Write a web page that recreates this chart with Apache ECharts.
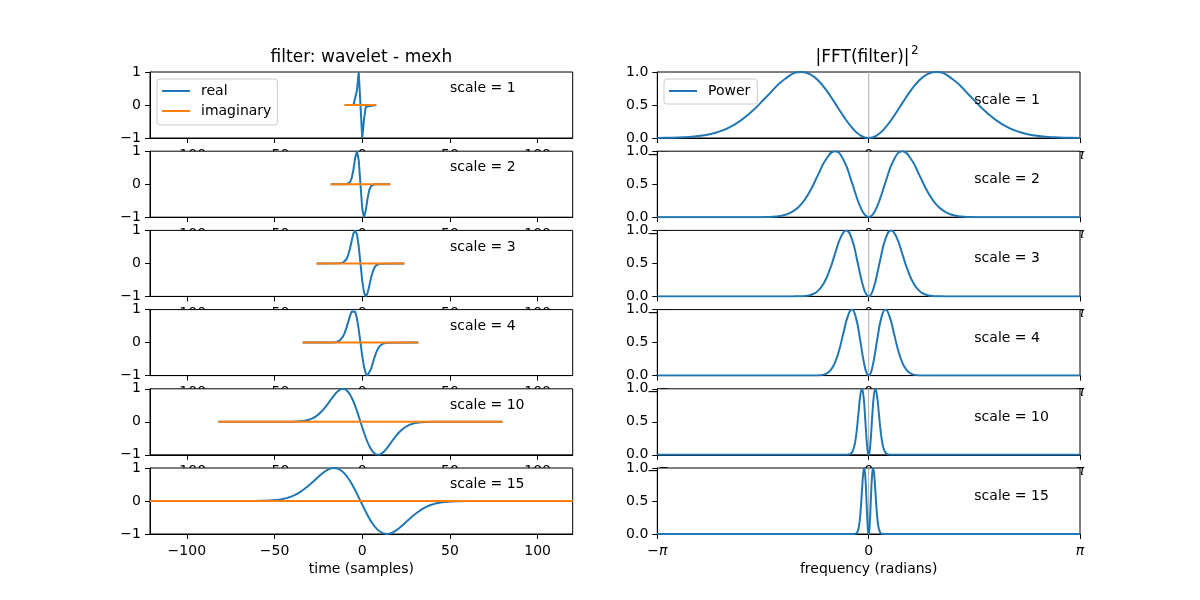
<!DOCTYPE html>
<html><head><meta charset="utf-8">
<script src="https://cdn.jsdelivr.net/npm/echarts@6/dist/echarts.min.js"></script>
<style>html,body{margin:0;padding:0;background:#fff}#c{width:1200px;height:600px}</style>
</head><body><div id="c"></div>
<script>
const scales = [1, 2, 3, 4, 10, 15];
const timeTicks = [-100, -50, 0, 50, 100];
const freqTicks = [-Math.PI, 0, Math.PI];

const realS1 = [[-10,0],[-5,0.002],[-4,0.055],[-3,0.446],[-2,1],[-1,0],[0,-1],[1,-0.446],[2,-0.055],[3,-0.002],[8,0]];
const imagS1 = [[-10,0],[8,0]];
const realS2 = [[-18,0],[-9,0.002],[-8,0.013],[-7,0.055],[-6,0.181],[-5,0.446],[-4,0.803],[-3,1],[-2,0.728],[-1,0],[0,-0.728],[1,-1],[2,-0.803],[3,-0.446],[4,-0.181],[5,-0.055],[6,-0.013],[7,-0.002],[16,0]];
const imagS2 = [[-18,0],[16,0]];
const realS3 = [[-26,0],[-13,0.002],[-12,0.007],[-11,0.021],[-10,0.055],[-9,0.126],[-8,0.253],[-7,0.446],[-6,0.685],[-5,0.904],[-4,1],[-3,0.880],[-2,0.520],[-1,0],[0,-0.520],[1,-0.880],[2,-1],[3,-0.904],[4,-0.685],[5,-0.446],[6,-0.253],[7,-0.126],[8,-0.055],[9,-0.021],[10,-0.007],[11,-0.002],[24,0]];
const imagS3 = [[-26,0],[24,0]];
const realS4 = [[-34,0],[-17,0.002],[-16,0.006],[-15,0.013],[-14,0.027],[-13,0.055],[-12,0.103],[-11,0.181],[-10,0.295],[-9,0.446],[-8,0.624],[-7,0.803],[-6,0.943],[-5,1],[-4,0.933],[-3,0.728],[-2,0.400],[-1,0],[0,-0.400],[1,-0.728],[2,-0.933],[3,-1],[4,-0.943],[5,-0.803],[6,-0.624],[7,-0.446],[8,-0.295],[9,-0.181],[10,-0.103],[11,-0.055],[12,-0.027],[13,-0.013],[14,-0.006],[15,-0.002],[32,0]];
const imagS4 = [[-34,0],[32,0]];
const realS10 = [[-82,0],[-46,0],[-41,0.002],[-38.5,0.006],[-36,0.013],[-33.5,0.027],[-31,0.055],[-28.5,0.103],[-26,0.181],[-23.5,0.295],[-21,0.446],[-18.5,0.624],[-16,0.803],[-13.5,0.943],[-11,1],[-8.5,0.933],[-6,0.728],[-3.5,0.400],[-1,0],[1.5,-0.400],[4,-0.728],[6.5,-0.933],[9,-1],[11.5,-0.943],[14,-0.803],[16.5,-0.624],[19,-0.446],[21.5,-0.295],[24,-0.181],[26.5,-0.103],[29,-0.055],[31.5,-0.027],[34,-0.013],[36.5,-0.006],[39,-0.002],[44,0],[80,0]];
const imagS10 = [[-82,0],[80,0]];
const realS15 = [[-121,0],[-68.5,0],[-61,0.002],[-57.25,0.006],[-53.5,0.013],[-49.75,0.027],[-46,0.055],[-42.25,0.103],[-38.5,0.181],[-34.75,0.295],[-31,0.446],[-27.25,0.624],[-23.5,0.803],[-19.75,0.943],[-16,1],[-12.25,0.933],[-8.5,0.728],[-4.75,0.400],[-1,0],[2.75,-0.400],[6.5,-0.728],[10.25,-0.933],[14,-1],[17.75,-0.943],[21.5,-0.803],[25.25,-0.624],[29,-0.446],[32.75,-0.295],[36.5,-0.181],[40.25,-0.103],[44,-0.055],[47.75,-0.027],[51.5,-0.013],[55.25,-0.006],[59,-0.002],[66.5,0],[120,0]];
const imagS15 = [[-121,0],[120,0]];

const powerS1 = [[-3.1416,0.001],[-3,0.003],[-2.75,0.011],[-2.5,0.033],[-2.25,0.087],[-2,0.199],[-1.75,0.389],[-1.5,0.645],[-1.25,0.890],[-1,1],[-0.875,0.968],[-0.75,0.871],[-0.625,0.718],[-0.5,0.529],[-0.375,0.332],[-0.25,0.160],[-0.125,0.042],[0,0],[0.125,0.042],[0.25,0.160],[0.375,0.332],[0.5,0.529],[0.625,0.718],[0.75,0.871],[0.875,0.968],[1,1],[1.25,0.890],[1.5,0.645],[1.75,0.389],[2,0.199],[2.25,0.087],[2.5,0.033],[2.75,0.011],[3,0.003],[3.1416,0.001]];
const powerS2 = [[-3.1416,0],[-1.75,0.0002],[-1.625,0.0007],[-1.5,0.003],[-1.375,0.011],[-1.25,0.033],[-1.125,0.087],[-1,0.199],[-0.875,0.389],[-0.75,0.645],[-0.625,0.890],[-0.5,1],[-0.375,0.871],[-0.25,0.529],[-0.1875,0.332],[-0.125,0.160],[-0.0625,0.042],[0,0],[0.0625,0.042],[0.125,0.160],[0.1875,0.332],[0.25,0.529],[0.375,0.871],[0.5,1],[0.625,0.890],[0.75,0.645],[0.875,0.389],[1,0.199],[1.125,0.087],[1.25,0.033],[1.375,0.011],[1.5,0.003],[1.625,0.0007],[1.75,0.0002],[3.1416,0]];
const powerS3 = [[-3.1416,0],[-1.1667,0.0002],[-1.0833,0.0007],[-1,0.003],[-0.9167,0.011],[-0.8333,0.033],[-0.75,0.087],[-0.6667,0.199],[-0.5833,0.389],[-0.5,0.645],[-0.4167,0.890],[-0.3333,1],[-0.25,0.871],[-0.1667,0.529],[-0.125,0.332],[-0.0833,0.160],[-0.0417,0.042],[0,0],[0.0417,0.042],[0.0833,0.160],[0.125,0.332],[0.1667,0.529],[0.25,0.871],[0.3333,1],[0.4167,0.890],[0.5,0.645],[0.5833,0.389],[0.6667,0.199],[0.75,0.087],[0.8333,0.033],[0.9167,0.011],[1,0.003],[1.0833,0.0007],[1.1667,0.0002],[3.1416,0]];
const powerS4 = [[-3.1416,0],[-0.875,0.0002],[-0.8125,0.0007],[-0.75,0.003],[-0.6875,0.011],[-0.625,0.033],[-0.5625,0.087],[-0.5,0.199],[-0.4375,0.389],[-0.375,0.645],[-0.3125,0.890],[-0.25,1],[-0.1875,0.871],[-0.125,0.529],[-0.0938,0.332],[-0.0625,0.160],[-0.0313,0.042],[0,0],[0.0313,0.042],[0.0625,0.160],[0.0938,0.332],[0.125,0.529],[0.1875,0.871],[0.25,1],[0.3125,0.890],[0.375,0.645],[0.4375,0.389],[0.5,0.199],[0.5625,0.087],[0.625,0.033],[0.6875,0.011],[0.75,0.003],[0.8125,0.0007],[0.875,0.0002],[3.1416,0]];
const powerS10 = [[-3.1416,0],[-0.35,0.0002],[-0.325,0.0007],[-0.3,0.003],[-0.275,0.011],[-0.25,0.033],[-0.225,0.087],[-0.2,0.199],[-0.175,0.389],[-0.15,0.645],[-0.125,0.890],[-0.1,1],[-0.075,0.871],[-0.05,0.529],[-0.0375,0.332],[-0.025,0.160],[-0.0125,0.042],[0,0],[0.0125,0.042],[0.025,0.160],[0.0375,0.332],[0.05,0.529],[0.075,0.871],[0.1,1],[0.125,0.890],[0.15,0.645],[0.175,0.389],[0.2,0.199],[0.225,0.087],[0.25,0.033],[0.275,0.011],[0.3,0.003],[0.325,0.0007],[0.35,0.0002],[3.1416,0]];
const powerS15 = [[-3.1416,0],[-0.2333,0.0002],[-0.2167,0.0007],[-0.2,0.003],[-0.1833,0.011],[-0.1667,0.033],[-0.15,0.087],[-0.1333,0.199],[-0.1167,0.389],[-0.1,0.645],[-0.0833,0.890],[-0.0667,1],[-0.05,0.871],[-0.0333,0.529],[-0.025,0.332],[-0.0167,0.160],[-0.0083,0.042],[0,0],[0.0083,0.042],[0.0167,0.160],[0.025,0.332],[0.0333,0.529],[0.05,0.871],[0.0667,1],[0.0833,0.890],[0.1,0.645],[0.1167,0.389],[0.1333,0.199],[0.15,0.087],[0.1667,0.033],[0.1833,0.011],[0.2,0.003],[0.2167,0.0007],[0.2333,0.0002],[3.1416,0]];
const zeroLine = [[0,0],[0,1]];

const realList = [realS1, realS2, realS3, realS4, realS10, realS15];
const imagList = [imagS1, imagS2, imagS3, imagS4, imagS10, imagS15];
const powerList = [powerS1, powerS2, powerS3, powerS4, powerS10, powerS15];

const FONT = 'DejaVu Sans';
const BLUE = '#1f77b4', ORANGE = '#ff7f0e';
const rowTop = [72, 151.2, 230.4, 309.6, 388.8, 468];
const rowH = 66;
const minus = s => String(s).replace('-', '\u2212');

const grids = [], xAxes = [], yAxes = [], series = [];
for (let r = 0; r < 6; r++) {
  const zG = 10 * r + 1, zA = 10 * r + 2, zS = 10 * r + 3;
  const last = r === 5;
  const gridBase = { top: rowTop[r], height: rowH, show: true, backgroundColor: '#fff', borderColor: '#000', borderWidth: 1, z: zG };
  grids.push(Object.assign({ left: 150, width: 422.7 }, gridBase));
  grids.push(Object.assign({ left: 657.3, width: 422.7 }, gridBase));
  const axisCommon = {
    z: zA,
    axisLine: { show: true, onZero: false, lineStyle: { color: '#000', width: 1 } },
    splitLine: { show: false },
  };
  xAxes.push(Object.assign({}, axisCommon, {
    type: 'value', gridIndex: 2 * r, min: -121, max: 120,
    axisTick: { show: true, length: 5, customValues: timeTicks, lineStyle: { color: '#000' } },
    axisLabel: { customValues: timeTicks, margin: 10, fontSize: 14, color: '#000', fontFamily: FONT, formatter: v => minus(v) },
    name: last ? 'time (samples)' : '', nameLocation: 'middle', nameGap: 28,
    nameTextStyle: { fontSize: 14, color: '#000', fontFamily: FONT }
  }));
  xAxes.push(Object.assign({}, axisCommon, {
    type: 'value', gridIndex: 2 * r + 1, min: -Math.PI, max: Math.PI,
    axisTick: { show: true, length: 5, customValues: freqTicks, lineStyle: { color: '#000' } },
    axisLabel: { customValues: freqTicks, margin: 10, fontSize: 14, color: '#000', fontFamily: FONT,
      formatter: v => v < -1 ? '\u2212{i|π}' : (v > 1 ? '{i|π}' : '0'),
      rich: { i: { fontStyle: 'italic', fontSize: 14, fontFamily: FONT, color: '#000' } } },
    name: last ? 'frequency (radians)' : '', nameLocation: 'middle', nameGap: 28,
    nameTextStyle: { fontSize: 14, color: '#000', fontFamily: FONT }
  }));
  yAxes.push(Object.assign({}, axisCommon, {
    type: 'value', gridIndex: 2 * r, min: -1, max: 1, interval: 1,
    axisTick: { show: true, length: 5, lineStyle: { color: '#000' } },
    axisLabel: { margin: 9, fontSize: 14, color: '#000', fontFamily: FONT, formatter: v => minus(v) }
  }));
  yAxes.push(Object.assign({}, axisCommon, {
    type: 'value', gridIndex: 2 * r + 1, min: 0, max: 1, interval: 0.5,
    axisTick: { show: true, length: 5, lineStyle: { color: '#000' } },
    axisLabel: { margin: 9, fontSize: 14, color: '#000', fontFamily: FONT, formatter: v => v.toFixed(1) }
  }));

  const smoothLeft = scales[r] >= 10;
  series.push({
    name: 'real', type: 'line', xAxisIndex: 2 * r, yAxisIndex: 2 * r, data: realList[r],
    symbol: 'none', showSymbol: false, smooth: smoothLeft, z: zS,
    lineStyle: { color: BLUE, width: 2 }, itemStyle: { color: BLUE },
    markPoint: {
      z: zS + 1, symbol: 'circle', symbolSize: 0, silent: true,
      data: [{ coord: [50, 0.5] }],
      label: { show: true, position: 'right', distance: 0, formatter: 'scale = ' + scales[r], fontSize: 14, color: '#000', fontFamily: FONT }
    }
  });
  series.push({
    name: 'imaginary', type: 'line', xAxisIndex: 2 * r, yAxisIndex: 2 * r, data: imagList[r],
    symbol: 'none', showSymbol: false, z: zS,
    lineStyle: { color: ORANGE, width: 2 }, itemStyle: { color: ORANGE }
  });
  series.push({
    name: 'zero', type: 'line', xAxisIndex: 2 * r + 1, yAxisIndex: 2 * r + 1, data: zeroLine,
    symbol: 'none', showSymbol: false, z: zS, silent: true,
    lineStyle: { color: '#b0b0b0', width: 1 }, itemStyle: { color: '#b0b0b0' }
  });
  series.push({
    name: 'Power', type: 'line', xAxisIndex: 2 * r + 1, yAxisIndex: 2 * r + 1, data: powerList[r],
    symbol: 'none', showSymbol: false, smooth: true, z: zS,
    lineStyle: { color: BLUE, width: 2 }, itemStyle: { color: BLUE },
    markPoint: {
      z: zS + 1, symbol: 'circle', symbolSize: 0, silent: true,
      data: [{ coord: [Math.PI / 2, 0.57] }],
      label: { show: true, position: 'right', distance: 0, formatter: 'scale = ' + scales[r], fontSize: 14, color: '#000', fontFamily: FONT }
    }
  });
}

const legendCommon = {
  orient: 'vertical', icon: 'rect', itemWidth: 28, itemHeight: 2, itemGap: 6,
  borderColor: '#cccccc', borderWidth: 1, borderRadius: 3, backgroundColor: 'rgba(255,255,255,0.8)',
  textStyle: { fontSize: 14, color: '#000', fontFamily: FONT, padding: [0, 0, 0, 6] },
  selectedMode: false, z: 200
};

const option = {
  animation: false,
  textStyle: { fontFamily: FONT },
  grid: grids, xAxis: xAxes, yAxis: yAxes, series: series,
  legend: [
    Object.assign({ data: ['real', 'imaginary'], left: 157, top: 79, padding: [5, 6, 7, 5] }, legendCommon),
    Object.assign({ data: ['Power'], left: 664, top: 79, padding: [5, 7, 6, 5] }, legendCommon)
  ],
  graphic: [
    { type: 'text', x: 361.4, y: 58, z: 200, style: { text: 'filter: wavelet - mexh', fontSize: 17, fontFamily: FONT, fill: '#000', align: 'center', verticalAlign: 'middle' } },
    { type: 'text', x: 909.5, y: 58, z: 200, style: { text: '|FFT(filter)|', fontSize: 17, fontFamily: FONT, fill: '#000', align: 'right', verticalAlign: 'middle' } },
    { type: 'text', x: 911, y: 51, z: 200, style: { text: '2', fontSize: 12, fontFamily: FONT, fill: '#000', align: 'left', verticalAlign: 'middle' } }
  ]
};

const chart = echarts.init(document.getElementById('c'), null, { renderer: 'canvas' });
chart.setOption(option);
</script>
</body></html>
